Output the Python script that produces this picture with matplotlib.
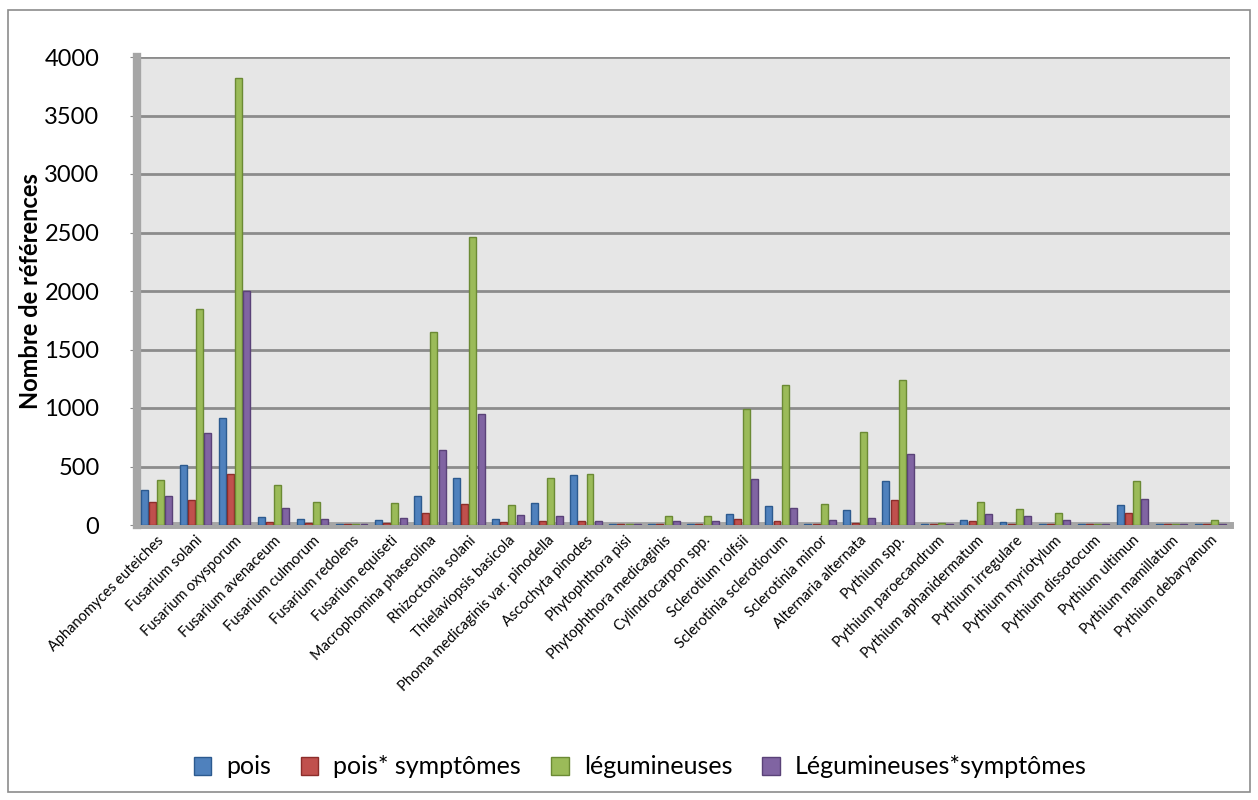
import numpy as np
import matplotlib
matplotlib.use("Agg")
from matplotlib import pyplot as plt
from matplotlib.patches import Rectangle

plt.rcParams['font.family'] = ['Lato', 'DejaVu Sans']

categories = [
    "Aphanomyces euteiches", "Fusarium solani", "Fusarium oxysporum",
    "Fusarium avenaceum", "Fusarium culmorum", "Fusarium redolens",
    "Fusarium equiseti", "Macrophomina phaseolina", "Rhizoctonia solani",
    "Thielaviopsis basicola", "Phoma medicaginis var. pinodella",
    "Ascochyta pinodes", "Phytophthora pisi", "Phytophthora medicaginis",
    "Cylindrocarpon spp.", "Sclerotium rolfsii", "Sclerotinia sclerotiorum",
    "Sclerotinia minor", "Alternaria alternata", "Pythium spp.",
    "Pythium paroecandrum", "Pythium aphanidermatum", "Pythium irregulare",
    "Pythium myriotylum", "Pythium dissotocum", "Pythium ultimun",
    "Pythium mamillatum", "Pythium debaryanum",
]

pois = [295, 510, 915, 70, 50, 8, 45, 246, 405, 50, 190, 425, 8, 12,
        12, 95, 160, 10, 127, 373, 6, 45, 25, 12, 8, 170, 6, 8]
pois_sympt = [195, 210, 440, 25, 15, 5, 15, 100, 180, 25, 30, 30, 5, 5,
              5, 50, 30, 10, 15, 212, 5, 30, 10, 10, 5, 105, 5, 5]
legum = [381, 1850, 3820, 340, 195, 10, 190, 1652, 2460, 170, 405, 440,
         8, 75, 75, 990, 1200, 180, 795, 1240, 20, 195, 135, 100, 10, 375,
         8, 40]
legum_sympt = [246, 790, 2000, 145, 50, 8, 60, 640, 950, 85, 80, 30, 6,
               35, 30, 390, 145, 40, 60, 610, 10, 95, 75, 40, 8, 220, 6, 12]

series = [pois, pois_sympt, legum, legum_sympt]
labels = ["pois", "pois* symptômes", "légumineuses", "Légumineuses*symptômes"]
colors = ["#4F81BD", "#C0504D", "#9BBB59", "#8064A2"]
edges = ["#2C5A8F", "#8C2D2A", "#6B8A34", "#5A4278"]

fig = plt.figure(figsize=(12.58, 8), dpi=100)
fig.patches.append(Rectangle((8 / 1258, 8 / 800), 1242 / 1258, 782 / 800,
                             transform=fig.transFigure, fill=False,
                             edgecolor="#8C8C8C", linewidth=1.2))

ax = fig.add_axes([137 / 1258, 1 - 525 / 800, 1093 / 1258, 468 / 800])
ax.set_facecolor("#E6E6E6")

x = np.arange(len(categories))
w = 0.21
for i, (vals, c, ec, lab) in enumerate(zip(series, colors, edges, labels)):
    ax.bar(x + (i - 1.5) * w, vals, width=w * 0.85, color=c, edgecolor=ec,
           linewidth=1.0, label=lab, zorder=3)

ax.set_xlim(-0.5, len(categories) - 0.5)
ax.set_ylim(0, 4000)
ax.set_yticks(np.arange(0, 4001, 500))
ax.yaxis.grid(True, color="#8C8C8C", linewidth=2.0, zorder=0)
ax.set_axisbelow(True)
ax.tick_params(axis="y", labelsize=17, length=5, color="#8C8C8C", pad=22)
ax.tick_params(axis="x", length=0, labelsize=10.5, pad=6)
ax.set_xticks(x)
ax.set_xticklabels(categories, rotation=45, ha="right", rotation_mode="anchor")

for s in ["top", "right"]:
    ax.spines[s].set_visible(False)
ax.spines["left"].set_color("#A6A6A6")
ax.spines["left"].set_linewidth(6)
ax.spines["bottom"].set_color("#A6A6A6")
ax.spines["bottom"].set_linewidth(5)

ax.set_ylabel("Nombre de références", fontsize=17, fontweight="bold",
              labelpad=2)

fig.legend(loc="center", bbox_to_anchor=(640 / 1258, 1 - 767 / 800), ncol=4,
           fontsize=18, frameon=False, handlelength=0.7, handleheight=0.7,
           columnspacing=1.2, handletextpad=0.6)

fig.savefig("out.png", dpi=100)
